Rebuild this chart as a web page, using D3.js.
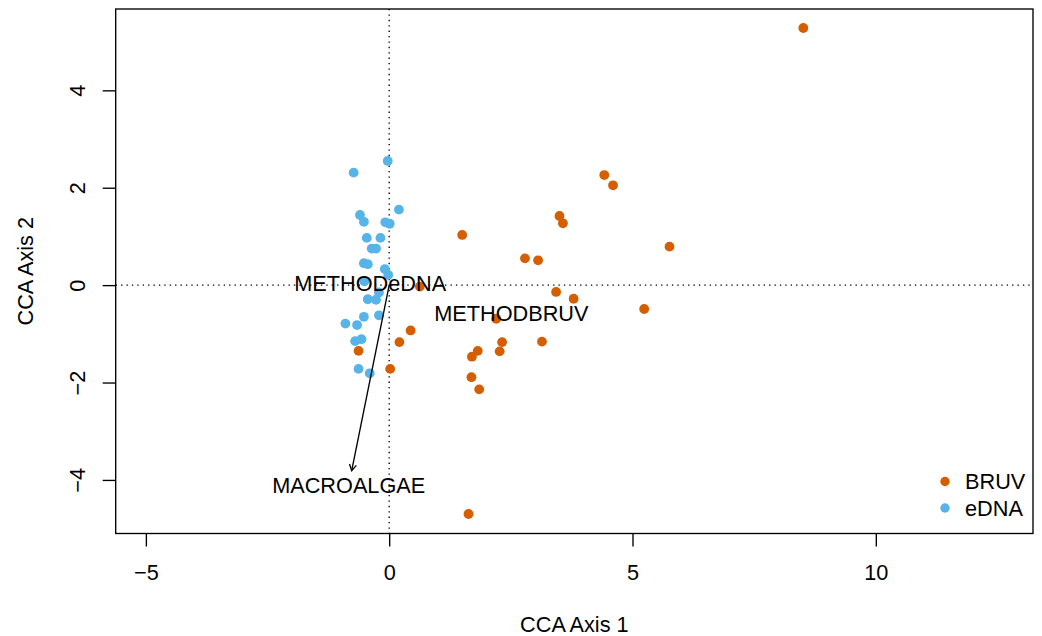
<!DOCTYPE html>
<html><head><meta charset="utf-8">
<script src="https://cdn.jsdelivr.net/npm/d3@7"></script>
<style>body{margin:0;background:#fff}svg{display:block}text{font-family:"Liberation Sans",Arial,Helvetica,sans-serif;fill:#000}</style>
</head><body>
<script>
// ---- data ----
const bruvX = [8.51, 4.42, 4.60, 3.50, 3.57, 5.76, 1.50, 2.79, 3.06, 0.63, 3.43, 3.79, 5.24, 2.20, 0.44, 0.21, 2.32, 3.14, 1.82, 2.27, 1.70, -0.63, 0.02, 1.69, 1.85, 1.63];
const bruvY = [5.28, 2.26, 2.05, 1.42, 1.27, 0.79, 1.03, 0.55, 0.51, -0.03, -0.14, -0.28, -0.49, -0.69, -0.93, -1.17, -1.17, -1.16, -1.35, -1.36, -1.47, -1.35, -1.72, -1.89, -2.14, -4.70];
const ednaX = [-0.03, -0.73, 0.20, -0.60, -0.52, -0.08, 0.01, -0.46, -0.18, -0.36, -0.27, -0.52, -0.44, -0.09, -0.02, -0.51, -0.21, -0.27, -0.44, -0.21, -0.52, -0.90, -0.66, -0.57, -0.70, -0.63, -0.40];
const ednaY = [2.55, 2.31, 1.55, 1.44, 1.30, 1.29, 1.26, 0.97, 0.97, 0.75, 0.75, 0.45, 0.43, 0.33, 0.21, 0.08, -0.15, -0.30, -0.29, -0.62, -0.65, -0.79, -0.82, -1.11, -1.15, -1.72, -1.81];
const arrowNames = ["MACROALGAE"];
const arrowX = [-0.77];
const arrowY = [-3.81];
const centroidNames = ["METHODeDNA", "METHODBRUV"];
const centroidX = [-0.39, 2.51];
const centroidY = [0.04, -0.59];
const xTicks = [-5, 0, 5, 10];
const yTicks = [-4, -2, 0, 2, 4];
const groups = ["BRUV", "eDNA"];
const groupColors = ["#D55E00", "#56B4E9"];
const xLabel = "CCA Axis 1", yLabel = "CCA Axis 2";

// ---- layout ----
const W = 1042, H = 636;
const L = 115.7, R = 1033, T = 9, B = 533.5;
const fs = 21.7, lw = 1.35;
const x = d3.scaleLinear().domain([-5.62, 13.23]).range([L, R]);
const y = d3.scaleLinear().domain([-5.10, 5.67]).range([B, T]);

const svg = d3.select("body").append("svg").attr("width", W).attr("height", H);

// dotted zero lines
svg.append("line").attr("x1", L).attr("x2", R).attr("y1", y(0)).attr("y2", y(0))
  .attr("stroke", "#000").attr("stroke-width", lw).attr("stroke-dasharray", "1.35,4.05");
svg.append("line").attr("x1", x(0)).attr("x2", x(0)).attr("y1", T).attr("y2", B)
  .attr("stroke", "#000").attr("stroke-width", lw).attr("stroke-dasharray", "1.35,4.05");

// points
const pts = [];
bruvX.forEach((v, i) => pts.push({x: v, y: bruvY[i], g: 0}));
ednaX.forEach((v, i) => pts.push({x: v, y: ednaY[i], g: 1}));
svg.append("g").selectAll("circle").data(pts).join("circle")
  .attr("cx", d => x(d.x)).attr("cy", d => y(d.y)).attr("r", 4.9)
  .attr("fill", d => groupColors[d.g]);

// arrows
arrowNames.forEach((n, i) => {
  const x0 = x(0), y0 = y(0), x1 = x(arrowX[i]), y1 = y(arrowY[i]);
  svg.append("line").attr("x1", x0).attr("y1", y0).attr("x2", x1).attr("y2", y1)
    .attr("stroke", "#000").attr("stroke-width", lw);
  const ang = Math.atan2(y1 - y0, x1 - x0), hl = 7, ha = Math.PI / 6;
  const p = [[x1 - hl * Math.cos(ang - ha), y1 - hl * Math.sin(ang - ha)], [x1, y1], [x1 - hl * Math.cos(ang + ha), y1 - hl * Math.sin(ang + ha)]];
  svg.append("path").attr("d", d3.line()(p)).attr("fill", "none").attr("stroke", "#000").attr("stroke-width", lw);
  svg.append("text").attr("x", x(arrowX[i] * 1.08)).attr("y", y(arrowY[i] * 1.08)).attr("dy", "0.35em")
    .attr("text-anchor", "middle").attr("font-size", fs).text(n);
});

// centroid labels
centroidNames.forEach((n, i) => {
  svg.append("text").attr("x", x(centroidX[i])).attr("y", y(centroidY[i])).attr("dy", "0.35em")
    .attr("text-anchor", "middle").attr("font-size", fs).text(n);
});

// box
svg.append("rect").attr("x", L).attr("y", T).attr("width", R - L).attr("height", B - T)
  .attr("fill", "none").attr("stroke", "#000").attr("stroke-width", lw);

// axes
const xa = svg.append("g").attr("transform", `translate(0,${B})`)
  .call(d3.axisBottom(x).tickValues(xTicks).tickSize(13).tickPadding(0).tickFormat(d => d < 0 ? "\u2212" + Math.abs(d) : d));
xa.select(".domain").remove();
xa.selectAll("line").attr("stroke", "#000").attr("stroke-width", lw);
xa.selectAll("text").attr("font-size", fs).attr("font-family", "Liberation Sans, Arial, sans-serif").attr("y", 46.5).attr("dy", 0);

const ya = svg.append("g").attr("transform", `translate(${L},0)`)
  .call(d3.axisLeft(y).tickValues(yTicks).tickSize(13).tickFormat(d => d < 0 ? "\u2212" + Math.abs(d) : d));
ya.select(".domain").remove();
ya.selectAll("line").attr("stroke", "#000").attr("stroke-width", lw);
ya.selectAll("text").attr("font-size", fs).attr("font-family", "Liberation Sans, Arial, sans-serif")
  .attr("x", null).attr("dy", 0).attr("text-anchor", "middle")
  .attr("transform", "translate(-31.2,0) rotate(-90)").attr("y", 0);

// axis titles
svg.append("text").attr("x", (L + R) / 2).attr("y", 632).attr("text-anchor", "middle").attr("font-size", fs).text(xLabel);
svg.append("text").attr("transform", `translate(${L - 3.2 * 26},${(T + B) / 2}) rotate(-90)`)
  .attr("text-anchor", "middle").attr("font-size", fs).text(yLabel);

// legend
const lg = svg.append("g");
groups.forEach((g, i) => {
  const cy = 481.5 + i * 26.5;
  lg.append("circle").attr("cx", 945).attr("cy", cy).attr("r", 4.7).attr("fill", groupColors[i]);
  lg.append("text").attr("x", 965).attr("y", cy).attr("dy", "0.35em").attr("font-size", fs).text(g);
});
</script>
</body></html>
